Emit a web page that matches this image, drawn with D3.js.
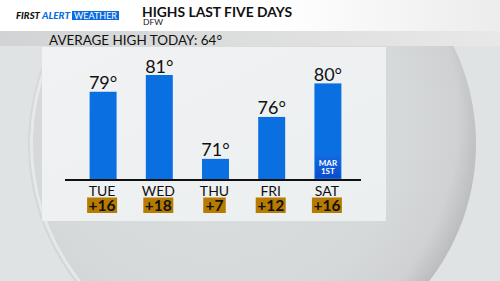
<!DOCTYPE html>
<html><head><meta charset="utf-8">
<script src="https://cdn.jsdelivr.net/npm/d3@7"></script>
<style>html,body{margin:0;padding:0;overflow:hidden;background:#dfe3e4;}svg{display:block;}</style>
</head><body>
<script>
const days = ["TUE", "WED", "THU", "FRI", "SAT"];
const highs = [79, 81, 71, 76, 80];
const departures = ["+16", "+18", "+7", "+12", "+16"];
const averageHigh = 64;
const title = "HIGHS LAST FIVE DAYS";
const subtitle = "DFW";
const noteDay = "SAT";
const noteLines = ["MAR", "1ST"];

const W = 500, H = 281;
const FONT = "Lato, 'Noto Sans', sans-serif";
const svg = d3.select("body").append("svg").attr("width", W).attr("height", H);
const defs = svg.append("defs");

// background gradients
const bgG = defs.append("radialGradient").attr("id", "sphere")
  .attr("cx", 0.42).attr("cy", 0.45).attr("r", 0.6);
bgG.append("stop").attr("offset", "0%").attr("stop-color", "#dcdfe0");
bgG.append("stop").attr("offset", "70%").attr("stop-color", "#d6d9da");
bgG.append("stop").attr("offset", "90%").attr("stop-color", "#cfd1d2");
bgG.append("stop").attr("offset", "100%").attr("stop-color", "#b9babb");
const hdrG = defs.append("linearGradient").attr("id", "hdr");
hdrG.append("stop").attr("offset", "0%").attr("stop-color", "#ffffff");
hdrG.append("stop").attr("offset", "55%").attr("stop-color", "#ffffff");
hdrG.append("stop").attr("offset", "100%").attr("stop-color", "#ececec");
const bandG = defs.append("linearGradient").attr("id", "band");
bandG.append("stop").attr("offset", "0%").attr("stop-color", "#d2d3d4");
bandG.append("stop").attr("offset", "100%").attr("stop-color", "#e8e8e8");
const panelG = defs.append("linearGradient").attr("id", "panel").attr("x2", 1).attr("y2", 1);
panelG.append("stop").attr("offset", "0%").attr("stop-color", "#f0f2f3");
panelG.append("stop").attr("offset", "100%").attr("stop-color", "#eceff0");
const noteG = defs.append("linearGradient").attr("id", "note").attr("x2", 0).attr("y2", 1);
noteG.append("stop").attr("offset", "0%").attr("stop-color", "#1466e0");
noteG.append("stop").attr("offset", "100%").attr("stop-color", "#0a4ccc");

svg.append("rect").attr("width", W).attr("height", H).attr("fill", "#dfe3e4");
svg.append("circle").attr("cx", 252).attr("cy", 144).attr("r", 224)
  .attr("fill", "url(#sphere)");
svg.append("path")
  .attr("d", d3.arc()({innerRadius: 219, outerRadius: 222, startAngle: -2.55, endAngle: -1.2}))
  .attr("transform", "translate(252,144)").attr("fill", "#e8ecee").attr("opacity", 0.8);

// header
svg.append("rect").attr("width", W).attr("height", 31).attr("fill", "url(#hdr)");
svg.append("rect").attr("y", 31).attr("width", W).attr("height", 15).attr("fill", "url(#band)");

// logo
const logo = svg.append("g").attr("font-family", FONT).attr("font-weight", 900)
  .attr("font-style", "italic").attr("font-size", 8.5);
logo.append("text").attr("x", 16).attr("y", 19).attr("fill", "#111").text("FIRST")
  .attr("textLength", 24).attr("lengthAdjust", "spacingAndGlyphs");
logo.append("text").attr("x", 42).attr("y", 19).attr("fill", "#0b6be0").text("ALERT")
  .attr("textLength", 28).attr("lengthAdjust", "spacingAndGlyphs");
svg.append("rect").attr("x", 72).attr("y", 11).attr("width", 47).attr("height", 9).attr("fill", "#0b6be0");
svg.append("text").attr("x", 74).attr("y", 19).attr("font-family", FONT).attr("font-size", 8.5)
  .attr("font-weight", 400).attr("fill", "#fff").text("WEATHER")
  .attr("textLength", 43).attr("lengthAdjust", "spacingAndGlyphs");

svg.append("text").attr("x", 142).attr("y", 16.5).attr("font-family", FONT).attr("font-size", 14)
  .attr("font-weight", 700).attr("fill", "#111").text(title)
  .attr("textLength", 150).attr("lengthAdjust", "spacingAndGlyphs");
svg.append("text").attr("x", 143).attr("y", 24.5).attr("font-family", FONT).attr("font-size", 7)
  .attr("font-weight", 400).attr("fill", "#111").text(subtitle)
  .attr("textLength", 20).attr("lengthAdjust", "spacingAndGlyphs");

svg.append("text").attr("x", 49).attr("y", 44.5).attr("font-family", FONT).attr("font-size", 14)
  .attr("font-weight", 400).attr("fill", "#111").text(`AVERAGE HIGH TODAY: ${averageHigh}°`)
  .attr("textLength", 173).attr("lengthAdjust", "spacingAndGlyphs");

// chart panel
svg.append("rect").attr("x", 42).attr("y", 47).attr("width", 344).attr("height", 174)
  .attr("fill", "url(#panel)");

const x = d3.scaleBand().domain(days).range([75, 356]).paddingInner(0.52).paddingOuter(0.26);
const y = d3.scaleLinear().domain([68.6, 81]).range([179, 75]);

const g = svg.append("g");
g.selectAll("rect.bar").data(days).join("rect").attr("class", "bar")
  .attr("x", d => x(d)).attr("width", x.bandwidth())
  .attr("y", (d, i) => y(highs[i])).attr("height", (d, i) => y.range()[0] - y(highs[i]))
  .attr("fill", "#0a70e2");

g.selectAll("text.val").data(days).join("text").attr("class", "val")
  .attr("x", d => x(d) + x.bandwidth() / 2).attr("y", (d, i) => y(highs[i]) - 2.5)
  .attr("text-anchor", "middle").attr("font-family", FONT).attr("font-size", 18)
  .attr("font-weight", 400).attr("fill", "#111").text((d, i) => highs[i] + "°");

// note on SAT bar
const nx = x(noteDay);
g.append("rect").attr("x", nx + 1).attr("y", 156).attr("width", x.bandwidth() - 2).attr("height", 22)
  .attr("fill", "url(#note)");
noteLines.forEach((t, k) => {
  g.append("text").attr("x", nx + x.bandwidth() / 2).attr("y", 165.5 + k * 8.5)
    .attr("text-anchor", "middle").attr("font-family", FONT).attr("font-size", 8)
    .attr("font-weight", 700).attr("fill", "#fff").text(t);
});

// baseline axis
const axis = d3.axisBottom(x).tickSize(0).tickPadding(0);
const ax = svg.append("g").attr("transform", `translate(0,${y.range()[0] + 0.5})`).call(axis);
ax.select(".domain").remove();
ax.selectAll("text").remove();
svg.append("line").attr("x1", 65).attr("x2", 361).attr("y1", 180).attr("y2", 180)
  .attr("stroke", "#111").attr("stroke-width", 2.2);

g.selectAll("text.day").data(days).join("text").attr("class", "day")
  .attr("x", d => x(d) + x.bandwidth() / 2 - 1).attr("y", 195.5)
  .attr("text-anchor", "middle").attr("font-family", FONT).attr("font-size", 14)
  .attr("font-weight", 400).attr("fill", "#111").text(d => d);

// departure badges
const badges = g.selectAll("g.badge").data(days).join("g").attr("class", "badge")
  .attr("transform", d => `translate(${x(d) + x.bandwidth() / 2 - 1},0)`);
badges.append("rect").attr("class", "bg").attr("y", 197.5).attr("height", 15.5).attr("fill", "#b77b00");
badges.append("text").attr("y", 211).attr("text-anchor", "middle").attr("font-family", FONT)
  .attr("font-size", 15.5).attr("font-weight", 700).attr("fill", "#111")
  .text((d, i) => departures[i]);
badges.each(function () {
  const gg = d3.select(this);
  const w = Math.max(22.5, gg.select("text").node().getComputedTextLength() + 3);
  gg.select("rect").attr("x", -w / 2).attr("width", w);
});
</script>
</body></html>
